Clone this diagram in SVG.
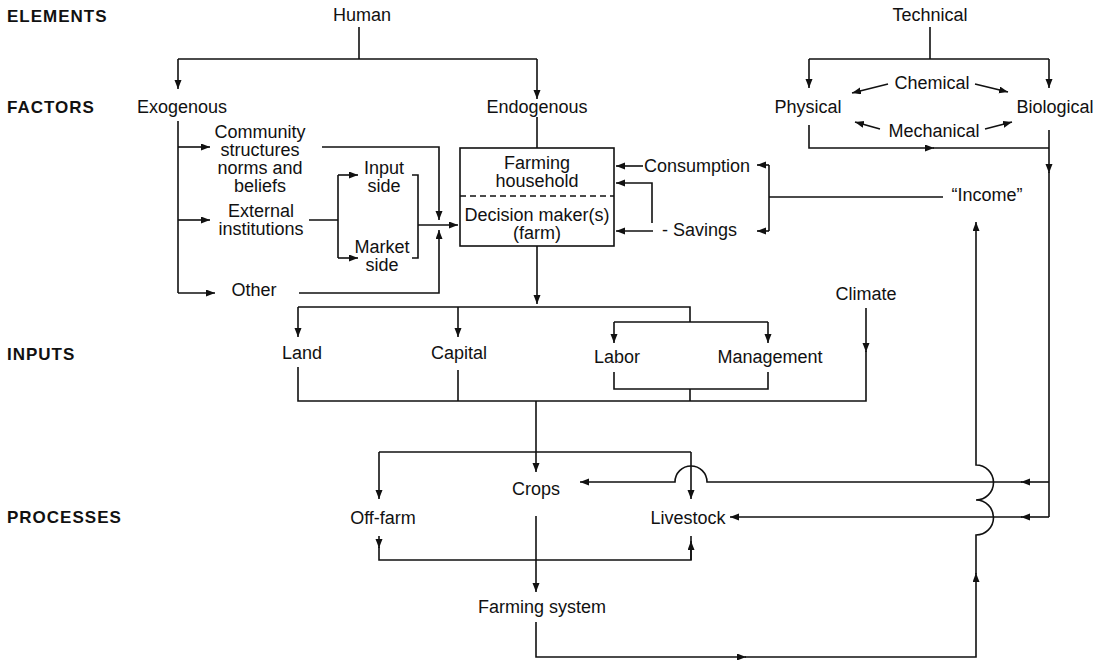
<svg xmlns="http://www.w3.org/2000/svg" width="1105" height="660" viewBox="0 0 1105 660">
<style>
text{font-family:"Liberation Sans",Arial,Helvetica,sans-serif;font-size:18px;fill:#111;text-anchor:middle}
.h{font-weight:bold;text-anchor:start;font-size:17px;letter-spacing:1px}
.s{text-anchor:start}
.c path{fill:none;stroke:#111;stroke-width:1.6}
.a{marker-end:url(#ah)}
.box{fill:none;stroke:#111;stroke-width:1.6}
.dash{stroke:#111;stroke-width:1.6;stroke-dasharray:6,4}
</style>
<defs>
<marker id="ah" markerUnits="userSpaceOnUse" markerWidth="10" markerHeight="8" refX="9" refY="3.5" orient="auto">
<path d="M0,0 L9,3.5 L0,7 z" fill="#111"/>
</marker>
</defs>
<rect width="1105" height="660" fill="#fff"/>
<g id="row-labels">
<text class="h" x="7" y="22">ELEMENTS</text>
<text class="h" x="7" y="113">FACTORS</text>
<text class="h" x="7" y="360">INPUTS</text>
<text class="h" x="7" y="523">PROCESSES</text>
</g>
<g id="human"><text x="362" y="21">Human</text></g>
<g id="technical"><text x="930" y="21">Technical</text></g>
<g id="exogenous"><text x="182" y="113">Exogenous</text></g>
<g id="endogenous"><text x="537" y="113">Endogenous</text></g>
<g id="physical"><text x="808" y="113">Physical</text></g>
<g id="biological"><text x="1055" y="113">Biological</text></g>
<g id="chemical"><text x="932" y="89">Chemical</text></g>
<g id="mechanical"><text x="934" y="137">Mechanical</text></g>
<g id="community"><text x="260" y="138">Community</text><text x="260" y="156">structures</text><text x="260" y="174">norms and</text><text x="260" y="192">beliefs</text></g>
<g id="external"><text x="261" y="217">External</text><text x="261" y="235">institutions</text></g>
<g id="other"><text x="254" y="296">Other</text></g>
<g id="input-side"><text x="384" y="174">Input</text><text x="384" y="192">side</text></g>
<g id="market-side"><text x="382" y="253">Market</text><text x="382" y="271">side</text></g>
<g id="household">
<rect class="box" x="460" y="148" width="154" height="98"/>
<line class="dash" x1="460" y1="196" x2="614" y2="196"/>
<text x="537" y="169">Farming</text><text x="537" y="187">household</text>
<text x="537" y="221">Decision maker(s)</text><text x="537" y="239">(farm)</text>
</g>
<g id="consumption"><text class="s" x="644" y="172">Consumption</text></g>
<g id="savings"><text class="s" x="662" y="236">- Savings</text></g>
<g id="income"><text x="987" y="201">“Income”</text></g>
<g id="climate"><text x="866" y="300">Climate</text></g>
<g id="land"><text x="302" y="359">Land</text></g>
<g id="capital"><text x="459" y="359">Capital</text></g>
<g id="labor"><text x="617" y="363">Labor</text></g>
<g id="management"><text x="770" y="363">Management</text></g>
<g id="crops"><text x="536" y="495">Crops</text></g>
<g id="off-farm"><text x="383" y="524">Off-farm</text></g>
<g id="livestock"><text x="688" y="524">Livestock</text></g>
<g id="farming-system"><text x="542" y="613">Farming system</text></g>
<g id="connectors" class="c">
<path d="M359,27 V59 M178,59 H537"/>
<path class="a" d="M178,59 V89"/>
<path class="a" d="M537,59 V99"/>
<path d="M930,27 V59 M809,59 H1049"/>
<path class="a" d="M809,59 V88"/>
<path class="a" d="M1049,59 V88"/>
<path class="a" d="M888,84 L852,93"/>
<path class="a" d="M975,84 L1008,92"/>
<path class="a" d="M880,129 L855,122"/>
<path class="a" d="M985,129 L1012,122"/>
<path class="a" d="M809,125 V148 H934"/>
<path d="M933,148 H1049"/>
<path class="a" d="M1049,130 V173"/>
<path d="M1049,172 V517"/>
<path class="a" d="M1049,482 H1021"/>
<path class="a" d="M1022,482 H707 A16,16 0 0 0 675,482 H580"/>
<path class="a" d="M1049,517 H1021"/>
<path class="a" d="M1022,517 H730"/>
<path class="a" d="M536,622 V657 H746"/>
<path class="a" d="M745,657 H976 V573"/>
<path class="a" d="M976,574 V535 A17.5,17.5 0 0 0 976,500 A17.5,17.5 0 0 0 976,465 V222"/>
<path d="M943,197 H769 M769,165 V231"/>
<path class="a" d="M769,165 H757"/>
<path class="a" d="M769,231 H757"/>
<path class="a" d="M643,166 H616"/>
<path class="a" d="M652,223 V183 H616"/>
<path class="a" d="M653,231 H616"/>
<path d="M537,117 V148"/>
<path class="a" d="M537,246 V304"/>
<path d="M298,307 H690 V322 M614,322 H768"/>
<path class="a" d="M298,307 V337"/>
<path class="a" d="M458,307 V337"/>
<path class="a" d="M614,322 V343"/>
<path class="a" d="M768,322 V343"/>
<path class="a" d="M866,308 V352"/>
<path d="M866,351 V401 H298 V367 M458,370 V401 M614,372 V389 H768 V372 M690,389 V401"/>
<path class="a" d="M536,401 V472"/>
<path d="M379,452 H691"/>
<path class="a" d="M379,452 V499"/>
<path class="a" d="M691,452 V499"/>
<path class="a" d="M379,536 V548"/>
<path d="M379,547 V560 H691 V543"/>
<path class="a" d="M691,560 V541"/>
<path d="M691,543 V536"/>
<path class="a" d="M536,516 V592"/>
<path d="M178,121 V293"/>
<path class="a" d="M178,293 H215"/>
<path class="a" d="M178,147 H210"/>
<path class="a" d="M178,220 H210"/>
<path class="a" d="M322,147 H439 V220"/>
<path class="a" d="M299,293 H439 V230"/>
<path d="M309,220 H338 M338,175 V258 M412,175 H418 V258 H412"/>
<path class="a" d="M338,175 H358"/>
<path class="a" d="M338,258 H358"/>
<path class="a" d="M418,225 H458"/>
</g>
</svg>
